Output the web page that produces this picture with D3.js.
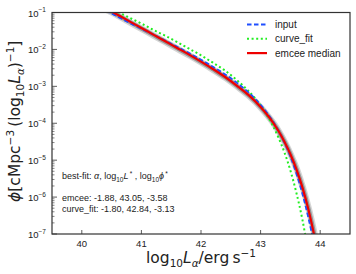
<!DOCTYPE html>
<html>
<head>
<script src="https://cdn.jsdelivr.net/npm/d3@7"></script>
<style>
  body { margin: 0; background: #fff; }
  text { font-family: "Liberation Sans", Arial, sans-serif; fill: #222; }
  .math { font-family: "DejaVu Sans", sans-serif; }
</style>
</head>
<body>
<script>
// log10 L (erg/s) sample points
var logL = [40.4, 40.6, 40.8, 41.0, 41.2, 41.4, 41.6, 41.8, 42.0, 42.2, 42.4, 42.6, 42.8,
            43.0, 43.1, 43.2, 43.3, 43.4, 43.5, 43.6, 43.7, 43.8, 43.9, 44.0];
// log10 phi
var inputPhi  = [-0.95, -1.11, -1.28, -1.44, -1.60, -1.76, -1.93, -2.10, -2.28, -2.47, -2.67, -2.90, -3.17,
                 -3.50, -3.70, -3.93, -4.20, -4.52, -4.90, -5.36, -5.90, -6.55, -7.30, -8.2];
var fitPhi    = [-0.82, -0.98, -1.14, -1.30, -1.47, -1.63, -1.80, -1.98, -2.16, -2.36, -2.57, -2.83, -3.13,
                 -3.52, -3.77, -4.05, -4.39, -4.79, -5.28, -5.88, -6.60, -7.50, -8.5, -9.5];
var emceePhi  = [-0.89, -1.06, -1.24, -1.42, -1.60, -1.78, -1.96, -2.14, -2.33, -2.53, -2.74, -2.98, -3.24,
                 -3.56, -3.75, -3.96, -4.21, -4.50, -4.84, -5.24, -5.73, -6.32, -7.04, -7.93];

var xTicks = [40, 41, 42, 43, 44];
var yTicks = [-1, -2, -3, -4, -5, -6, -7];
var legendNames = ["input", "curve_fit", "emcee median"];
var noteLines = ["emcee: -1.88, 43.05, -3.58", "curve_fit: -1.80, 42.84, -3.13"];

var W = 356, H = 274;
var pLeft = 52, pRight = 350, pTop = 12.5, pBottom = 234;

var svg = d3.select("body").append("svg").attr("width", W).attr("height", H);

var x = d3.scaleLinear().domain([39.5, 44.5]).range([pLeft, pRight]);
var y = d3.scaleLinear().domain([-1, -7]).range([pTop, pBottom]);

svg.append("clipPath").attr("id", "clip")
  .append("rect").attr("x", pLeft).attr("y", pTop)
  .attr("width", pRight - pLeft).attr("height", pBottom - pTop);

var plot = svg.append("g").attr("clip-path", "url(#clip)");

function lineFor(vals) {
  return d3.line()
    .x(function (d, i) { return x(logL[i]); })
    .y(function (d) { return y(d); })
    .curve(d3.curveMonotoneX)(vals);
}

// gray band of emcee samples
plot.append("path").attr("d", lineFor(emceePhi))
  .attr("transform", "translate(0.8,1.2)")
  .attr("fill", "none").attr("stroke", "#888").attr("stroke-width", 6.5).attr("stroke-opacity", 0.35);
plot.append("path").attr("d", lineFor(emceePhi))
  .attr("transform", "translate(0.4,0.6)")
  .attr("fill", "none").attr("stroke", "#555").attr("stroke-width", 4.2).attr("stroke-opacity", 0.5);

plot.append("path").attr("d", lineFor(fitPhi))
  .attr("fill", "none").attr("stroke", "#22ee22").attr("stroke-width", 2)
  .attr("stroke-dasharray", "2,2.6");
plot.append("path").attr("d", lineFor(inputPhi))
  .attr("fill", "none").attr("stroke", "#1f4fff").attr("stroke-width", 1.8)
  .attr("stroke-dasharray", "4.5,2.5");
plot.append("path").attr("d", lineFor(emceePhi))
  .attr("fill", "none").attr("stroke", "#ee0000").attr("stroke-width", 2.2);

// frame
svg.append("rect").attr("x", pLeft).attr("y", pTop)
  .attr("width", pRight - pLeft).attr("height", pBottom - pTop)
  .attr("fill", "none").attr("stroke", "#333").attr("stroke-width", 1.2);

// x axis ticks (inward)
var xAxis = svg.append("g");
xAxis.selectAll("line").data(xTicks).enter().append("line")
  .attr("x1", function (d) { return x(d); }).attr("x2", function (d) { return x(d); })
  .attr("y1", pBottom).attr("y2", pBottom - 4)
  .attr("stroke", "#333").attr("stroke-width", 0.8);
xAxis.selectAll("text").data(xTicks).enter().append("text")
  .attr("x", function (d) { return x(d); }).attr("y", pBottom + 12.5)
  .attr("text-anchor", "middle").attr("font-size", 9.5)
  .text(function (d) { return d; });

// y axis ticks (inward), major + minor
var yAxis = svg.append("g");
yAxis.selectAll("line.major").data(yTicks).enter().append("line")
  .attr("class", "major")
  .attr("x1", pLeft).attr("x2", pLeft + 5)
  .attr("y1", function (d) { return y(d); }).attr("y2", function (d) { return y(d); })
  .attr("stroke", "#333").attr("stroke-width", 0.8);
var minors = [];
yTicks.slice(1).forEach(function (e) {
  for (var m = 2; m <= 9; m++) minors.push(e + Math.log10(m));
});
yAxis.selectAll("line.minor").data(minors).enter().append("line")
  .attr("class", "minor")
  .attr("x1", pLeft).attr("x2", pLeft + 2.5)
  .attr("y1", function (d) { return y(d); }).attr("y2", function (d) { return y(d); })
  .attr("stroke", "#333").attr("stroke-width", 0.6);
var yl = yAxis.selectAll("text").data(yTicks).enter().append("text")
  .attr("x", 28).attr("y", function (d) { return y(d) + 4; })
  .attr("font-size", 9.5);
yl.append("tspan").text("10");
yl.append("tspan").attr("dy", -4.5).attr("font-size", 6.5)
  .text(function (d) { return "\u2212" + (-d); });

// axis labels
var xl = svg.append("text").attr("class", "math")
  .attr("x", (pLeft + pRight) / 2).attr("y", 263)
  .attr("text-anchor", "middle").attr("font-size", 15.5);
xl.append("tspan").text("log");
xl.append("tspan").attr("dy", 3.5).attr("font-size", 10.5).text("10");
xl.append("tspan").attr("dy", -3.5).attr("font-style", "italic").text("L");
xl.append("tspan").attr("dy", 3.5).attr("font-size", 10.5).attr("font-style", "italic").text("\u03b1");
xl.append("tspan").attr("dy", -3.5).text("/erg\u2009s");
xl.append("tspan").attr("dy", -6).attr("font-size", 10.5).text("\u22121");

var ylab = svg.append("text").attr("class", "math")
  .attr("transform", "translate(20," + ((pTop + pBottom) / 2 - 2) + ") rotate(-90)")
  .attr("text-anchor", "middle").attr("font-size", 15.5);
ylab.append("tspan").attr("font-style", "italic").text("\u03d5");
ylab.append("tspan").text("[cMpc");
ylab.append("tspan").attr("dy", -6).attr("font-size", 10.5).text("\u22123");
ylab.append("tspan").attr("dy", 6).text("\u2009(log");
ylab.append("tspan").attr("dy", 3.5).attr("font-size", 10.5).text("10");
ylab.append("tspan").attr("dy", -3.5).attr("font-style", "italic").text("L");
ylab.append("tspan").attr("dy", 3.5).attr("font-size", 10.5).attr("font-style", "italic").text("\u03b1");
ylab.append("tspan").attr("dy", -3.5).text(")");
ylab.append("tspan").attr("dy", -6).attr("font-size", 10.5).text("\u22121");
ylab.append("tspan").attr("dy", 6).text("]");

// legend
var legStyles = [
  { c: "#1f4fff", w: 1.8, dash: "4.5,2.5" },
  { c: "#22ee22", w: 2, dash: "2,2.6" },
  { c: "#ee0000", w: 2.2, dash: null }
];
var leg = svg.append("g").selectAll("g").data(legendNames).enter().append("g")
  .attr("transform", function (d, i) { return "translate(247," + (24.5 + i * 14.3) + ")"; });
leg.append("line").attr("x1", 0).attr("x2", 20).attr("y1", 0).attr("y2", 0)
  .attr("stroke", function (d, i) { return legStyles[i].c; })
  .attr("stroke-width", function (d, i) { return legStyles[i].w; })
  .attr("stroke-dasharray", function (d, i) { return legStyles[i].dash; });
leg.append("text").attr("x", 28).attr("y", 3.5).attr("font-size", 10)
  .text(function (d) { return d; });

// annotation
var note = svg.append("text").attr("x", 62).attr("y", 179).attr("font-size", 9);
note.append("tspan").text("best-fit: ");
note.append("tspan").attr("font-style", "italic").text("\u03b1");
note.append("tspan").text(", log");
note.append("tspan").attr("dy", 2.5).attr("font-size", 6.5).text("10");
note.append("tspan").attr("dy", -2.5).attr("font-style", "italic").text("L");
note.append("tspan").attr("dy", -3.5).attr("font-size", 6.5).text("\u2009*");
note.append("tspan").attr("dy", 3.5).text(" , log");
note.append("tspan").attr("dy", 2.5).attr("font-size", 6.5).text("10");
note.append("tspan").attr("dy", -2.5).attr("font-style", "italic").text("\u03d5");
note.append("tspan").attr("dy", -3.5).attr("font-size", 6.5).text("\u2009*");

svg.append("g").selectAll("text").data(noteLines).enter().append("text")
  .attr("x", 62).attr("y", function (d, i) { return 201 + i * 11; })
  .attr("font-size", 9)
  .text(function (d) { return d; });
</script>
</body>
</html>
